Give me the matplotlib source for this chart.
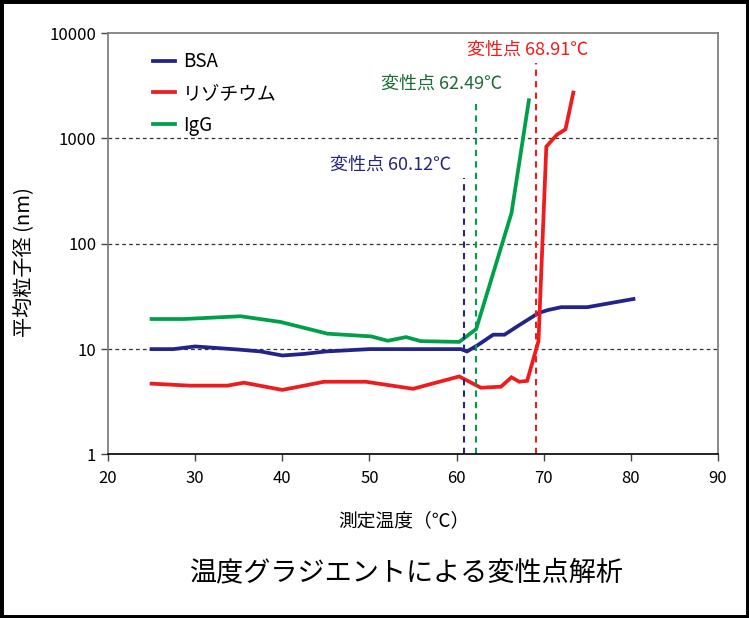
import matplotlib
matplotlib.use('Agg')
import matplotlib.pyplot as plt
from matplotlib.patches import Rectangle

plt.rcParams['font.family'] = ['Noto Sans CJK JP', 'DejaVu Sans']

# data
bsa_temp = [25, 27.5, 30, 35, 37.5, 40, 42.5, 45, 50, 55, 60.5, 61.2, 62.5, 64.2, 65.5, 67, 69.4, 70.5, 72, 75, 80.3]
bsa_size = [10, 10, 10.6, 9.9, 9.5, 8.7, 9.0, 9.5, 10, 10, 10, 9.5, 11, 13.7, 13.7, 16.5, 22, 23.5, 25, 25, 29.9]

lyz_temp = [25, 29.4, 33.7, 35.6, 40, 44.8, 49.6, 55, 60.3, 62.8, 65.1, 66.3, 67.2, 68.1, 69.4, 70.3, 71.5, 72.5, 73.4]
lyz_size = [4.7, 4.5, 4.5, 4.8, 4.1, 4.9, 4.9, 4.2, 5.5, 4.3, 4.4, 5.4, 4.9, 5.0, 11.9, 835, 1080, 1220, 2720]

igg_temp = [25, 28.7, 35.2, 39.8, 45.2, 50.2, 52.1, 54.2, 55.9, 60.3, 62.25, 66.3, 68.3]
igg_size = [19.3, 19.3, 20.5, 18.1, 14, 13.2, 12, 13, 11.9, 11.7, 15.5, 195, 2300]

series_names = ['BSA', 'リゾチウム', 'IgG']
series_colors = ['#23238C', '#EE1C1C', '#00A04B']

# denaturation points (BSA, IgG, lysozyme): label, line position, line top, label position
dn_labels = ['変性点 60.12℃', '変性点 62.49℃', '変性点 68.91℃']
dn_pos = [60.8, 62.25, 69.1]
dn_top = [420, 2300, 5200]
dn_line_colors = ['#23238C', '#00A04B', '#EE1C1C']
dn_text_colors = ['#262680', '#1B6B35', '#EE1C1C']
dn_text_x = [52.4, 58.3, 68.1]
dn_text_y = [560, 3290, 6900]

fig = plt.figure(figsize=(7.49, 6.18), dpi=100)
ax = fig.add_axes([0.1442, 0.2646, 0.8144, 0.682])

for t, s, name, c in zip([bsa_temp, lyz_temp, igg_temp], [bsa_size, lyz_size, igg_size],
                         series_names, series_colors):
    ax.plot(t, s, color=c, linewidth=2.7, label=name, solid_joinstyle='miter')

for x, top, c in zip(dn_pos, dn_top, dn_line_colors):
    ax.plot([x, x], [1, top], color=c, linewidth=1.5, linestyle=(0, (3, 2.5)))

for lbl, x, y, c in zip(dn_labels, dn_text_x, dn_text_y, dn_text_colors):
    ax.text(x, y, lbl, color=c, fontsize=13, ha='center', va='center')

ax.set_yscale('log')
ax.set_xlim(20, 90)
ax.set_ylim(1, 10000)
ax.set_xticks(range(20, 91, 10))
ax.set_yticks([1, 10, 100, 1000, 10000])
ax.set_yticklabels(['1', '10', '100', '1000', '10000'])
ax.minorticks_off()
ax.tick_params(axis='both', labelsize=12, length=5, width=1, direction='out', colors='#444444',
               labelcolor='black')
ax.tick_params(axis='x', pad=6)

for y in [10, 100, 1000]:
    ax.axhline(y, color='#333333', linewidth=0.9, linestyle=(0, (3, 2.5)), zorder=0)

for side in ['left', 'top', 'right']:
    ax.spines[side].set_color('#777777')
    ax.spines[side].set_linewidth(1.2)
ax.spines['bottom'].set_color('black')
ax.spines['bottom'].set_linewidth(1.2)

leg = ax.legend(loc='upper left', bbox_to_anchor=(0.046, 0.997), frameon=False, fontsize=13.5,
                handlelength=1.2, handletextpad=0.4, labelspacing=0.57)

fig.text(404 / 749, 1 - 521 / 618, '測定温度（℃）', fontsize=13.5, ha='center', va='center')
fig.text(24 / 749, 1 - 262 / 618, '平均粒子径 (nm)', fontsize=14.5, rotation=90, ha='center', va='center')
fig.text(406 / 749, 1 - 573 / 618, '温度グラジエントによる変性点解析', fontsize=19.5, ha='center', va='center')

fig.patches.append(Rectangle((0, 0), 1, 1, transform=fig.transFigure, fill=False,
                             edgecolor='black', linewidth=5))

fig.savefig('out.png', dpi=100)
